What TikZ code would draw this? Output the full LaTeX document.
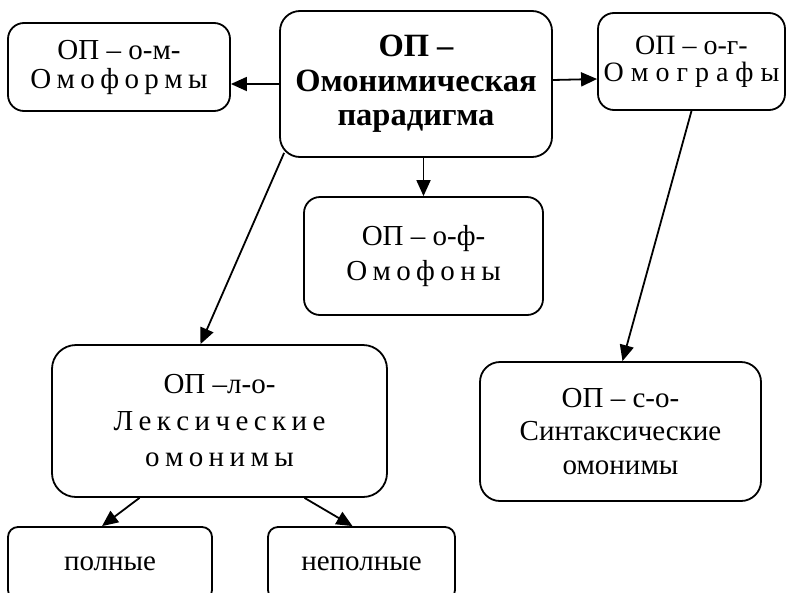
\documentclass[tikz,border=0pt]{standalone}
\usepackage{fontspec}
\setmainfont{Liberation Serif}
\usetikzlibrary{arrows.meta}
\newcommand\spaced[1]{{\spaceskip=5.4pt\relax #1}} % 字母间距
\tikzset{
    box/.style={draw, line width=1.8pt, rounded corners=16pt, inner sep=0pt, align=center}, % 圆角方框的样式
    link/.style={line width=1.8pt, -{Stealth[length=16pt, width=14pt, inset=0pt]}} % 箭头的样式
}

\begin{document}
\begin{tikzpicture}[x=1pt, y=-1pt, font=\fontsize{29}{29}\selectfont]
            \def\W{786} \def\H{592}
            \useasboundingbox (0,0) rectangle (\W,\H);
            \clip (0,0) rectangle (\W,\H);

            \node[box, minimum width=272pt, minimum height=146pt, rounded corners=20pt, font=\bfseries\fontsize{32.5}{34.5}\selectfont] (par) at (416,84) {ОП –\\Омонимическая\\парадигма};
            \node[box, minimum width=222pt, minimum height=88pt, font=\fontsize{29}{29}\selectfont] (om) at (119,67) {ОП – о-м-\\\spaced{О м о ф о р м ы}};
            \node[box, minimum width=187pt, minimum height=97pt, font=\fontsize{28}{27}\selectfont] (og) at (691.5,61.5) {ОП – о-г-\\О м о г р а ф ы};
            \node[box, minimum width=239pt, minimum height=118pt, font=\fontsize{29}{35}\selectfont] (of) at (423.5,256) {ОП – о-ф-\\\spaced{О м о ф о н ы}};
            \node[box, minimum width=335pt, minimum height=152pt, rounded corners=24pt, font=\fontsize{29}{36.5}\selectfont] (lex) at (219.5,421) {ОП –л-о-\\\spaced{Л е к с и ч е с к и е}\\\spaced{о м о н и м ы}};
            \node[box, minimum width=281pt, minimum height=139pt, rounded corners=20pt, font=\fontsize{29}{33.5}\selectfont] (syn) at (620.5,431.5) {ОП – с-о-\\Синтаксические\\омонимы};
            \node[box, minimum width=204pt, minimum height=73pt, rounded corners=10pt] (full) at (110,563.5) {полные};
            \node[box, minimum width=187pt, minimum height=73pt, rounded corners=10pt] (part) at (361.5,563.5) {неполные};

            \draw[link] (par.west) -- (om.east |- par.west);
            \draw[link] ([yshift=4pt]par.east) -- ([yshift=5pt]og.west |- par.east);
            \draw[link] (of.north |- par.south) -- (of.north);
            \draw[link] ([xshift=5pt, yshift=5pt]par.south west) -- ([xshift=-19pt]lex.north);
            \draw[link] (og.south) -- ([xshift=2pt]syn.north);
            \draw[link] ([xshift=-80pt]lex.south) -- ([xshift=-8pt]full.north);
            \draw[link] ([xshift=85pt]lex.south) -- ([xshift=-9pt]part.north);
        \end{tikzpicture}
\end{document}
